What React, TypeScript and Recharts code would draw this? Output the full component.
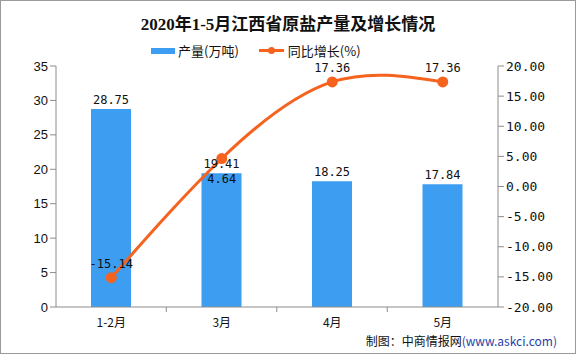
import React from 'react';
import { ComposedChart, Bar, Line, XAxis, YAxis, LabelList } from 'recharts';

const categories = ['1-2月', '3月', '4月', '5月'];
const output = [28.75, 19.41, 18.25, 17.84];
const growth = [-15.14, 4.64, 17.36, 17.36];
const leftTicks = [0, 5, 10, 15, 20, 25, 30, 35];
const rightTicks = [-20, -15, -10, -5, 0, 5, 10, 15, 20];

const data = categories.map((name, i) => ({ name, output: output[i], growth: growth[i] }));

const BAR = '#3d9df0';
const LINE = '#f5631f';
const AXIS = '#8c8c8c';
const LABEL_FONT = '"DejaVu Sans Mono", monospace';
const HALF_BAND = 55;

// category tick: label centred, tick mark on the boundary to the right
const CategoryTick = (props: any) => {
  const { x, y, payload, index } = props;
  return (
    <g>
      {index < categories.length - 1 && (
        <line x1={x + HALF_BAND} y1={y - 8} x2={x + HALF_BAND} y2={y - 3} stroke={AXIS} />
      )}
      <text x={x} y={y + 12} textAnchor="middle" fill="#111" fontSize={12} fontFamily='"Noto Sans CJK SC", sans-serif'>
        {payload.value}
      </text>
    </g>
  );
};

// growth labels sit above the point, except where it would collide with the bar label
const GrowthLabel = (props: any) => {
  const { x, y, value, index } = props;
  const below = index === 1;
  return (
    <text
      x={x}
      y={below ? y + 24 : y - 10}
      textAnchor="middle"
      fill="#111"
      fontSize={12}
      fontFamily={LABEL_FONT}
    >
      {Number(value).toFixed(2)}
    </text>
  );
};

const App: React.FC = () => {
  return (
    <div
      style={{
        position: 'absolute',
        left: 0,
        top: 0,
        width: 576,
        height: 354,
        boxSizing: 'border-box',
        border: '1px solid #9a9a9a',
        background: '#fff',
        overflow: 'hidden',
      }}
    >
      <div
        style={{
          position: 'absolute',
          top: 9,
          width: '100%',
          textAlign: 'center',
          fontFamily: '"Liberation Serif", "Noto Sans CJK SC", serif',
          fontWeight: 'bold',
          fontSize: 17,
          color: '#111',
        }}
      >
        2020年1-5月江西省原盐产量及增长情况
      </div>
      <div
        style={{
          position: 'absolute',
          top: 40,
          left: 150,
          display: 'flex',
          alignItems: 'center',
          fontFamily: '"Noto Sans CJK SC", sans-serif',
          fontSize: 13,
          color: '#111',
        }}
      >
        <span style={{ display: 'inline-block', width: 24, height: 6, background: BAR, marginRight: 3 }} />
        <span>产量(万吨)</span>
        <span style={{ position: 'relative', display: 'inline-block', width: 25, height: 3, background: LINE, marginLeft: 20, marginRight: 4 }}>
          <span style={{ position: 'absolute', left: 9, top: -2, width: 7, height: 7, borderRadius: 4, background: LINE }} />
        </span>
        <span>同比增长(%)</span>
      </div>
      <ComposedChart
        width={574}
        height={352}
        data={data}
        margin={{ top: 65, right: 0, bottom: 26, left: 0 }}
        style={{ position: 'absolute', left: 0, top: 0 }}
      >
        <XAxis
          dataKey="name"
          stroke={AXIS}
          tick={<CategoryTick />}
          tickLine={false}
          height={20}
        />
        <YAxis
          yAxisId="left"
          domain={[0, 35]}
          ticks={leftTicks}
          stroke={AXIS}
          width={55}
          tick={{ fill: '#111', fontSize: 13, fontFamily: '"Liberation Sans", sans-serif' }}
        />
        <YAxis
          yAxisId="right"
          orientation="right"
          domain={[-20, 20]}
          ticks={rightTicks}
          stroke={AXIS}
          width={77}
          tickFormatter={(v: number) => v.toFixed(2)}
          tick={{ fill: '#111', fontSize: 13, fontFamily: LABEL_FONT, textAnchor: 'start' }}
        />
        <Bar yAxisId="left" dataKey="output" fill={BAR} barSize={40} isAnimationActive={false}>
          <LabelList dataKey="output" position="top" fill="#111" fontSize={12} fontFamily={LABEL_FONT} formatter={(v: number) => v.toFixed(2)} />
        </Bar>
        <Line
          yAxisId="right"
          dataKey="growth"
          type="natural"
          stroke={LINE}
          strokeWidth={3}
          dot={{ r: 4, fill: LINE, stroke: LINE }}
          isAnimationActive={false}
        >
          <LabelList dataKey="growth" content={<GrowthLabel />} />
        </Line>
      </ComposedChart>
      <div
        style={{
          position: 'absolute',
          right: 18,
          bottom: 4,
          fontFamily: '"Noto Sans CJK SC", sans-serif',
          fontSize: 12,
          color: '#111',
        }}
      >
        制图：中商情报网<span style={{ color: '#1f3fa8' }}>(www.askci.com)</span>
      </div>
    </div>
  );
};

export default App;
